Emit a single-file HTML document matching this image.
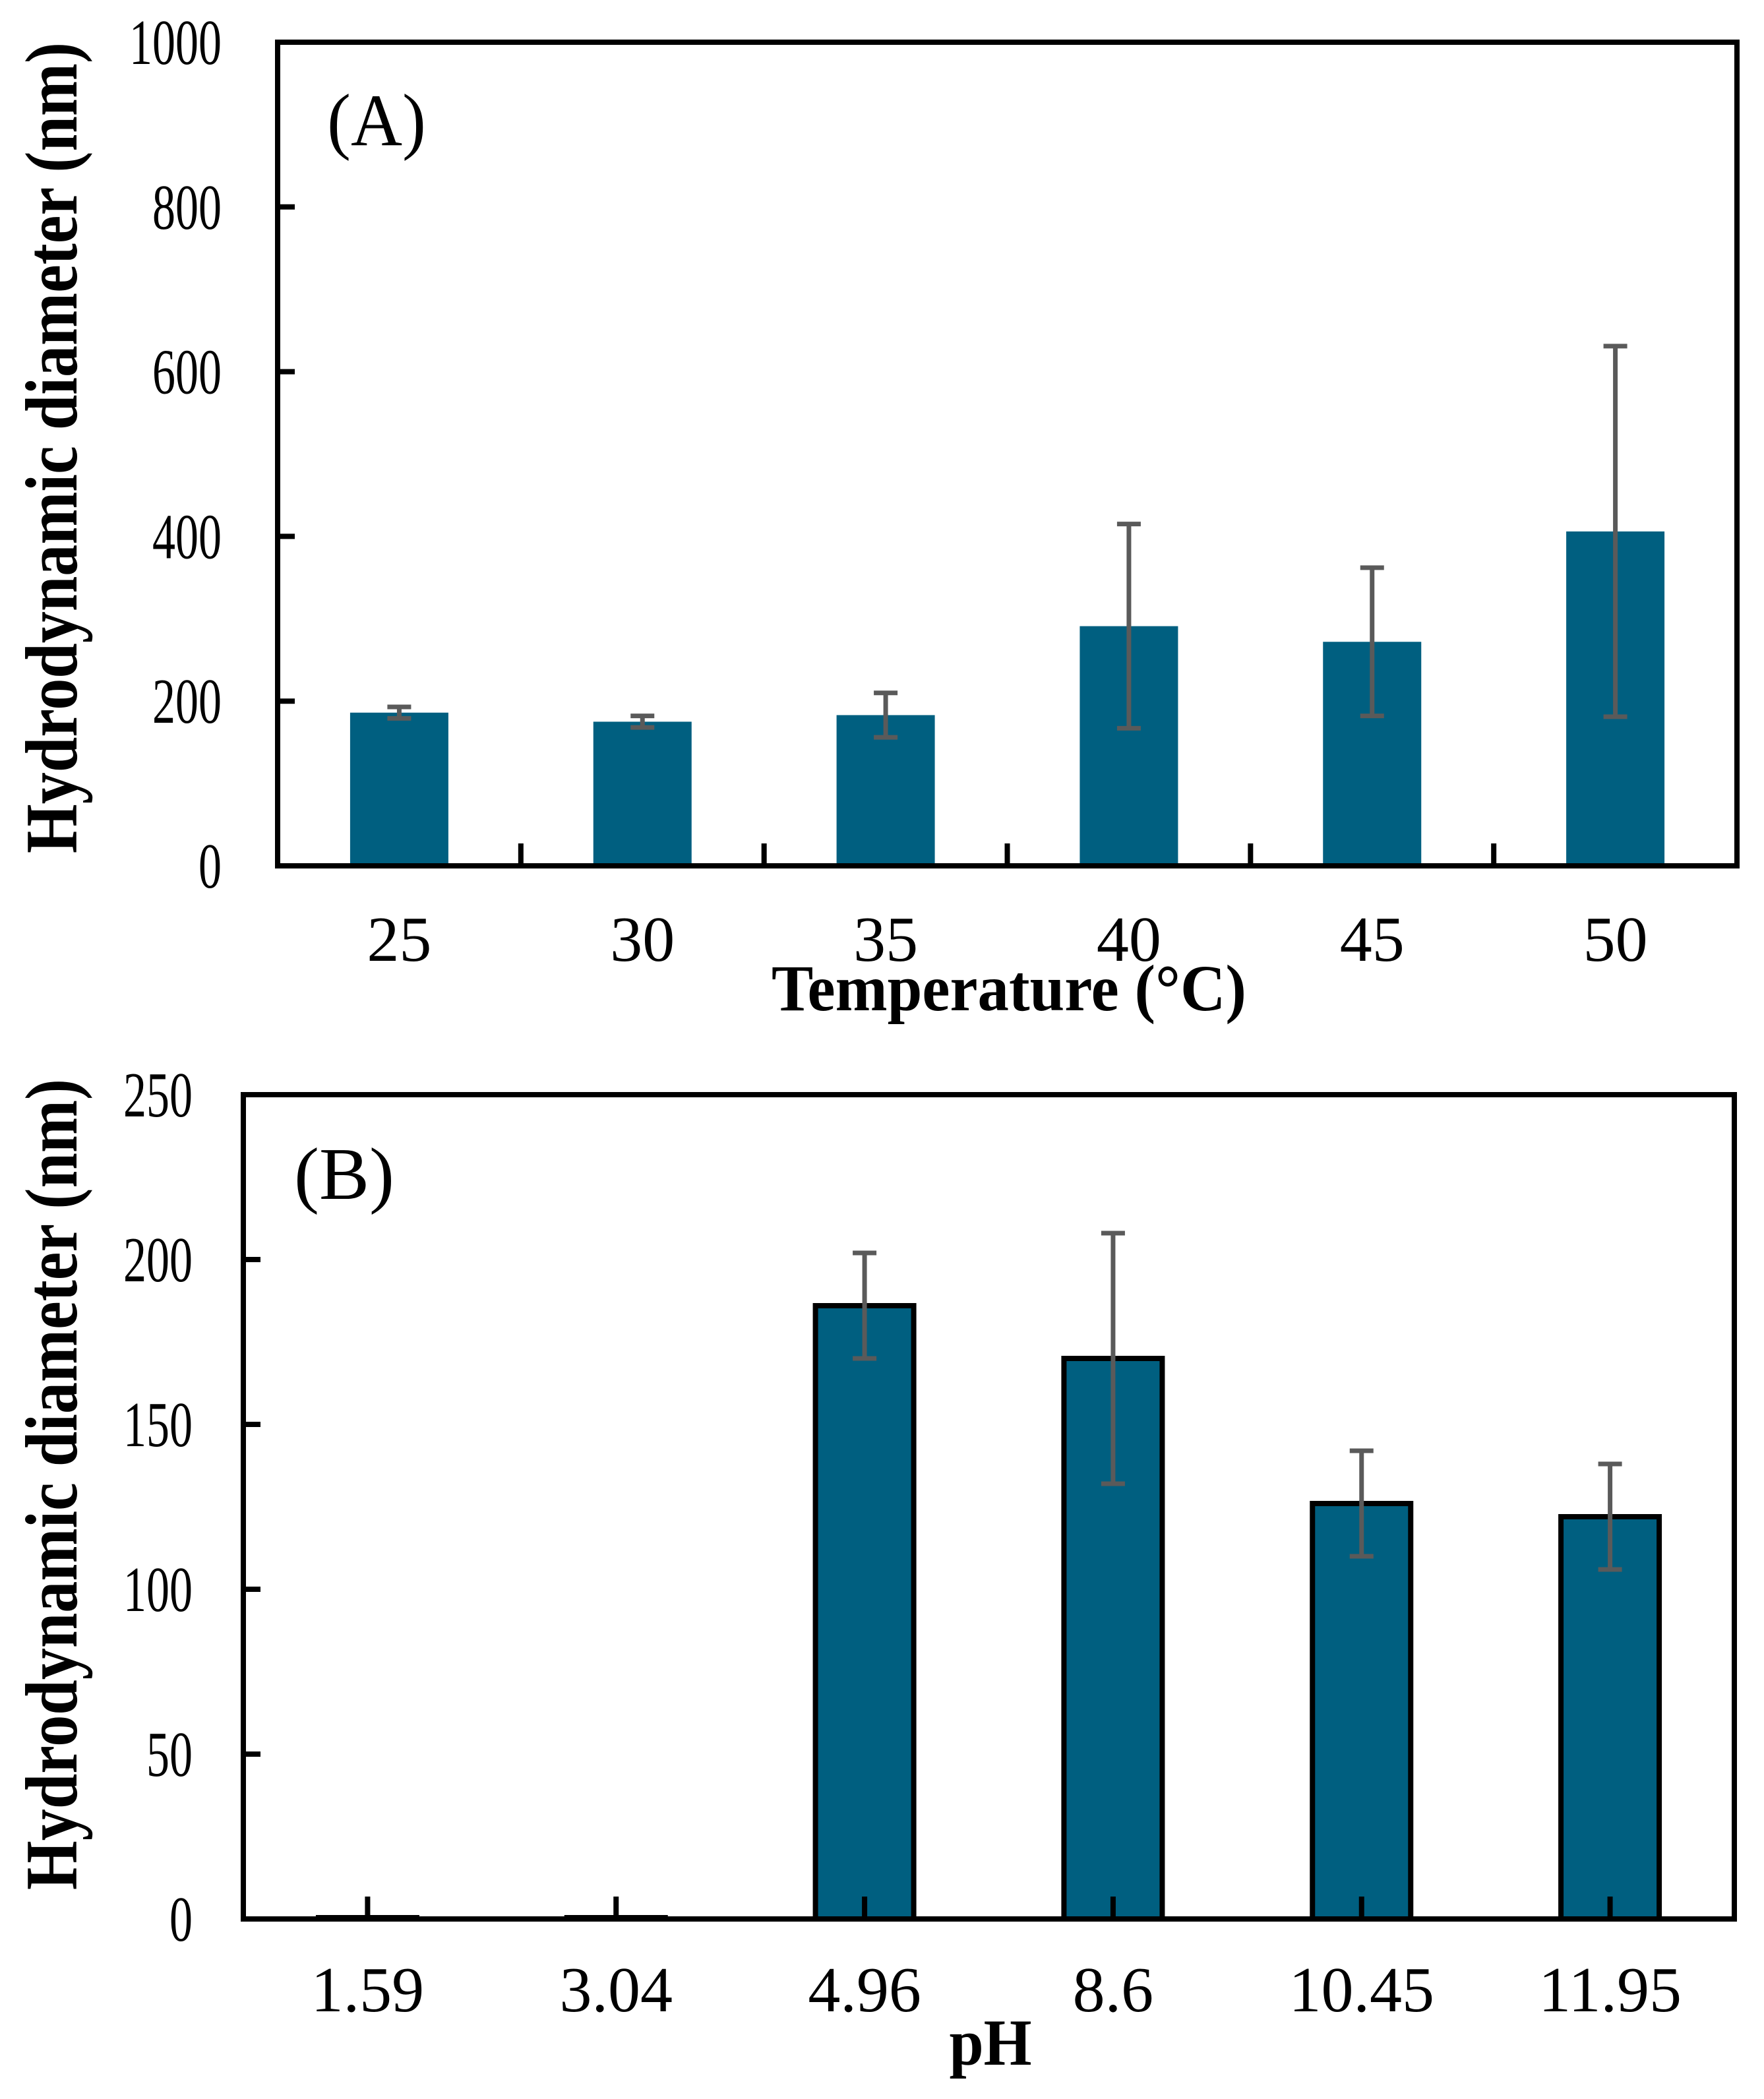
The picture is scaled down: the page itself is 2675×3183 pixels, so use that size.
<!DOCTYPE html>
<html><head><meta charset="utf-8"><style>
html,body{margin:0;padding:0;background:#fff;}
svg{display:block;}
text{font-family:"Liberation Serif",serif;fill:#000;}
</style></head><body>
<svg id="chart" width="2675" height="3183" viewBox="0 0 2675 3183" xmlns="http://www.w3.org/2000/svg">
<g id="panelA"></g>
<g id="panelB"></g>
</svg>
<script>
const catsA = ["25","30","35","40","45","50"];
const valsA = [186, 175, 183, 291, 272, 406];
const errsA = [7, 7, 27, 124, 90, 225];
const yTicksA = [0, 200, 400, 600, 800, 1000];

const catsB = ["1.59","3.04","4.96","8.6","10.45","11.95"];
const valsB = [0.4, 0.4, 186, 170, 126, 122];
const errsB = [0, 0, 16, 38, 16, 16];
const yTicksB = [0, 50, 100, 150, 200, 250];

const NS = "http://www.w3.org/2000/svg";
function mk(parent, tag, attrs){
  const e = document.createElementNS(NS, tag);
  for (const k in attrs) e.setAttribute(k, attrs[k]);
  parent.appendChild(e);
  return e;
}

function drawPanel(g, cfg){
  const {L,R,T,B,ymax,cats,vals,errs,ticks,border,xTickAtCenter,labelRight,xLabelBase,title,titleX,titleY,titleLen,letter,letterX,letterY,letterLen,yTitleY} = cfg;
  const n = cats.length, cw = (R-L)/n, bw = 149;
  const y = v => B - v/ymax*(B-T);
  const xc = i => L + (i+0.5)*cw;

  for (let i=0;i<n;i++){
    const r = mk(g,'rect',{x:xc(i)-bw/2, y:y(vals[i]), width:bw, height:B-y(vals[i]), fill:'#005f80'});
    if (border){ r.setAttribute('stroke','#000'); r.setAttribute('stroke-width','8'); }
    
    
  }
  for (let i=0;i<n;i++){
    if (!errs[i]) continue;
    const eg = mk(g,'g',{stroke:'#5a5a5a','stroke-width':7,fill:'none'});
    
    
    const x = xc(i), hi = y(vals[i]+errs[i]), lo = y(vals[i]-errs[i]);
    mk(eg,'line',{x1:x,x2:x,y1:hi,y2:lo});
    mk(eg,'line',{x1:x-18,x2:x+18,y1:hi,y2:hi});
    mk(eg,'line',{x1:x-18,x2:x+18,y1:lo,y2:lo});
  }
  const f = mk(g,'rect',{x:L,y:T,width:R-L,height:B-T,fill:'none',stroke:'#000','stroke-width':8});
  
  
  ticks.forEach(t=>{
    if (t>0 && t<ymax) mk(g,'line',{x1:L,x2:L+26,y1:y(t),y2:y(t),stroke:'#000','stroke-width':8});
    const s = String(t);
    const tx = mk(g,'text',{x:labelRight,y:y(t)+33,'text-anchor':'end','font-size':98,textLength:s.length*35,lengthAdjust:'spacingAndGlyphs'});
    tx.textContent = s;
    
    
  });
  for (let i=0;i<n;i++){
    if (xTickAtCenter){
      mk(g,'line',{x1:xc(i),x2:xc(i),y1:B,y2:B-34,stroke:'#000','stroke-width':8});
    } else if (i>0){
      const x = L+i*cw;
      mk(g,'line',{x1:x,x2:x,y1:B,y2:B-34,stroke:'#000','stroke-width':8});
    }
    const tx = mk(g,'text',{x:xc(i),y:xLabelBase,'text-anchor':'middle','font-size':98});
    tx.textContent = cats[i];
    
    
  }
  const xt = mk(g,'text',{x:titleX,y:titleY,'text-anchor':'middle','font-size':100,'font-weight':'bold',textLength:titleLen,lengthAdjust:'spacingAndGlyphs'});
  xt.textContent = title;
  
  
  const yt = mk(g,'text',{x:0,y:0,'text-anchor':'middle','font-size':112,'font-weight':'bold',textLength:1230,lengthAdjust:'spacingAndGlyphs',transform:`translate(116,${yTitleY}) rotate(-90)`});
  yt.textContent = 'Hydrodynamic diameter (nm)';
  
  
  const lt = mk(g,'text',{x:letterX,y:letterY,'font-size':112,textLength:letterLen,lengthAdjust:'spacingAndGlyphs'});
  lt.textContent = letter;
  
  
}

drawPanel(document.getElementById('panelA'), {
  L:421,R:2634,T:64,B:1313,ymax:1000,cats:catsA,vals:valsA,errs:errsA,ticks:yTicksA,
  border:false,xTickAtCenter:false,labelRight:336,xLabelBase:1457,
  title:'Temperature (°C)',titleX:1530,titleY:1532,titleLen:720,
  letter:'(A)',letterX:496,letterY:220,letterLen:150,yTitleY:679
});
drawPanel(document.getElementById('panelB'), {
  L:369,R:2630,T:1660,B:2910,ymax:250,cats:catsB,vals:valsB,errs:errsB,ticks:yTicksB,
  border:true,xTickAtCenter:true,labelRight:292,xLabelBase:3050,
  title:'pH',titleX:1502,titleY:3131,titleLen:125,
  letter:'(B)',letterX:446,letterY:1818,letterLen:152,yTitleY:2251
});
</script>
</body></html>
